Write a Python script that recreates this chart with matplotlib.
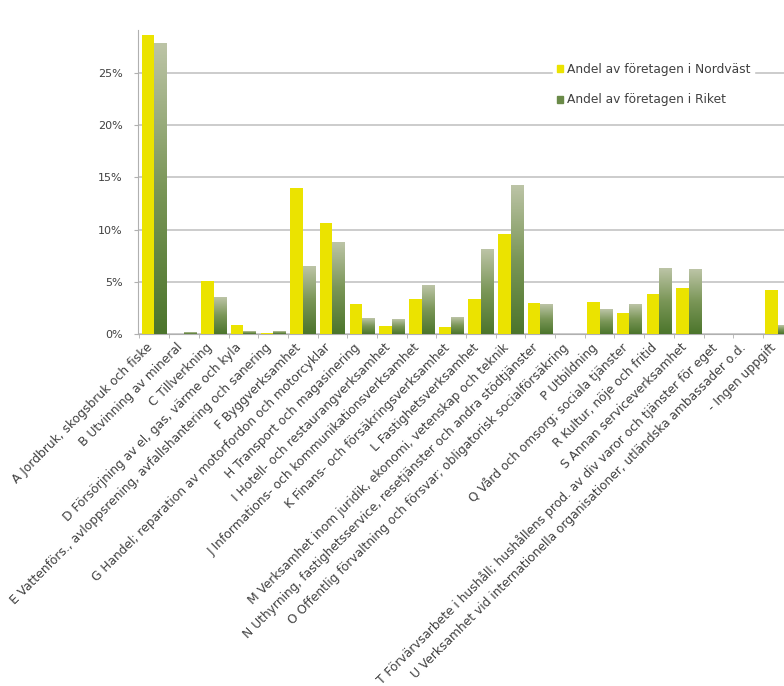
import numpy as np
import matplotlib.pyplot as plt
import matplotlib.transforms as mtransforms
from matplotlib.colors import LinearSegmentedColormap

categories = [
    "A Jordbruk, skogsbruk och fiske",
    "B Utvinning av mineral",
    "C Tillverkning",
    "D Försörjning av el, gas, värme och kyla",
    "E Vattenförs., avloppsrening, avfallshantering och sanering",
    "F Byggverksamhet",
    "G Handel; reparation av motorfordon och motorcyklar",
    "H Transport och magasinering",
    "I Hotell- och restaurangverksamhet",
    "J Informations- och kommunikationsverksamhet",
    "K Finans- och försäkringsverksamhet",
    "L Fastighetsverksamhet",
    "M Verksamhet inom juridik, ekonomi, vetenskap och teknik",
    "N Uthyrning, fastighetsservice, resetjänster och andra stödtjänster",
    "O Offentlig förvaltning och försvar; obligatorisk socialförsäkring",
    "P Utbildning",
    "Q Vård och omsorg; sociala tjänster",
    "R Kultur, nöje och fritid",
    "S Annan serviceverksamhet",
    "T Förvärvsarbete i hushåll; hushållens prod. av div varor och tjänster för eget",
    "U Verksamhet vid internationella organisationer, utländska ambassader o.d.",
    "- Ingen uppgift",
]
nordvast = [28.6, 0.0, 5.1, 0.9, 0.1, 14.0, 10.6, 2.9, 0.8, 3.4, 0.7, 3.4,
            9.6, 3.0, 0.0, 3.1, 2.0, 3.8, 4.4, 0.0, 0.0, 4.2]
riket = [27.8, 0.1, 3.5, 0.2, 0.2, 6.5, 8.8, 1.5, 1.4, 4.6, 1.6, 8.1,
         14.2, 2.8, 0.0, 2.3, 2.8, 6.3, 6.2, 0.0, 0.0, 0.8]
yticks = [0, 5, 10, 15, 20, 25]
labels = ["Andel av företagen i Nordväst", "Andel av företagen i Riket"]

fig = plt.figure(figsize=(7.84, 6.86), dpi=100)
ax = fig.add_axes([0.176, 0.513, 0.835, 0.443])

x = np.arange(len(categories))
w = 0.42
yellow = "#ebe300"
green_cmap = LinearSegmentedColormap.from_list("g", ["#4c752c", "#7a9657", "#bcc4a6"])

b1 = ax.bar(x - w / 2, nordvast, w, color=yellow, zorder=3, label=labels[0])
b2 = ax.bar(x + w / 2, riket, w, color="none", zorder=3, label=labels[1])

# gradient fill for the green bars
grad = np.linspace(0, 1, 100).reshape(-1, 1)
for bar in b2:
    h = bar.get_height()
    if h <= 0:
        continue
    x0 = bar.get_x()
    ax.imshow(grad, cmap=green_cmap, extent=[x0, x0 + bar.get_width(), 0, h],
              origin="lower", aspect="auto", zorder=3)

ax.set_xlim(-0.55, len(categories) - 0.5)
ax.set_ylim(0, 29.1)
ax.set_yticks(yticks)
ax.set_yticklabels([f"{t}%" for t in yticks], fontsize=8, color="#404040")
ax.yaxis.grid(True, color="#c4c4c4", linewidth=1.2, zorder=0)
ax.set_axisbelow(True)

ax.set_xticks(x)
ax.set_xticks(np.arange(len(categories) + 1) - 0.5, minor=True)
ax.tick_params(axis="x", which="major", length=0, pad=5)
ax.tick_params(axis="x", which="minor", length=3, color="#b0b0b0")
ax.tick_params(axis="y", length=3, color="#b0b0b0", pad=8)
ax.set_xticklabels(categories, rotation=45, ha="right", rotation_mode="anchor",
                   fontsize=8.8, color="#404040")
# nudge the rotated labels left so the last one stays inside the figure
shift = mtransforms.ScaledTranslation(-6 / 72, 0, fig.dpi_scale_trans)
for lab in ax.get_xticklabels():
    lab.set_transform(lab.get_transform() + shift)

for s in ["top", "right"]:
    ax.spines[s].set_visible(False)
for s in ["left", "bottom"]:
    ax.spines[s].set_color("#b0b0b0")

h1 = plt.Rectangle((0, 0), 1, 1, color=yellow)
h2 = plt.Rectangle((0, 0), 1, 1, color="#6a8a48")
leg = ax.legend([h1, h2], labels, loc="upper left", bbox_to_anchor=(0.625, 0.925),
                fontsize=8.8, frameon=True, framealpha=1, edgecolor="white",
                handlelength=0.5, handleheight=0.5, handletextpad=0.3,
                labelspacing=1.45, borderpad=0.3)
for t in leg.get_texts():
    t.set_color("#404040")

fig.savefig("out.png", dpi=100)
